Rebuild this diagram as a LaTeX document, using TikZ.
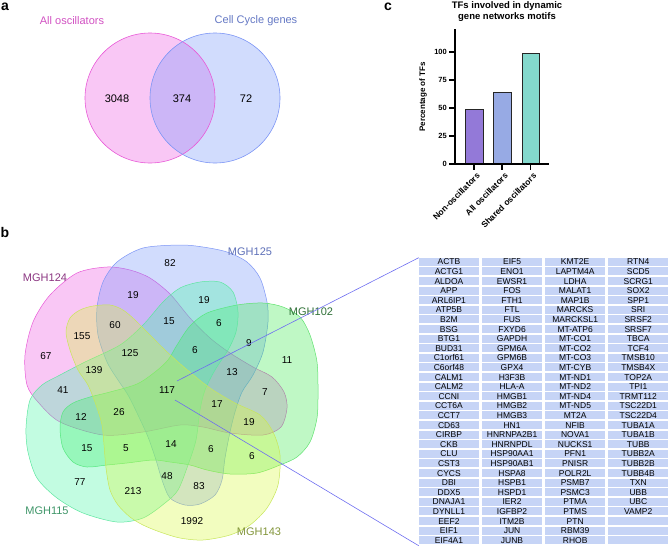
\documentclass[tikz,border=0pt]{standalone}
\usepackage{fontspec}
\setmainfont{Liberation Sans}
\usetikzlibrary{positioning}

\definecolor{oscPink}{RGB}{237,85,225}
\definecolor{oscPinkLine}{RGB}{232,90,215}
\definecolor{ccBlue}{RGB}{115,148,250}
\definecolor{ccBlueLine}{RGB}{125,150,245}
\definecolor{mghGreen}{RGB}{60,235,80}
\definecolor{mghGreenLine}{RGB}{95,225,110}
\definecolor{mghMint}{RGB}{70,245,165}
\definecolor{mghMintLine}{RGB}{95,230,160}
\definecolor{mghYellow}{RGB}{215,248,60}
\definecolor{mghYellowLine}{RGB}{200,230,90}
\definecolor{cellBlue}{RGB}{198,212,246}
\definecolor{zoomLine}{RGB}{110,110,240}
\definecolor{barPurple}{RGB}{147,121,216}
\definecolor{barBlue}{RGB}{151,170,228}
\definecolor{barTeal}{RGB}{132,217,205}

\begin{document}
\begin{tikzpicture}[x=1pt,y=-1pt,
    panel/.style={font=\fontsize{14}{16}\selectfont\bfseries, inner sep=0pt},
    num/.style={font=\fontsize{10}{12}\selectfont, inner sep=1pt},
    bignum/.style={font=\fontsize{11}{13}\selectfont, inner sep=1pt},
    setlabel/.style={font=\fontsize{11}{13}\selectfont, inner sep=1pt},
    blob/.style={fill opacity=0.33, line width=0.5pt},
    gene/.style={font=\fontsize{8.5}{9}\selectfont, inner sep=0pt, text height=6.1pt, text depth=0pt},
    bar/.style={draw=black!85, line width=0.9pt},
    axis/.style={line width=1.3pt, line cap=rect},
    tick/.style={font=\fontsize{7.5}{9}\selectfont\bfseries, inner sep=1pt},
    cat/.style={font=\fontsize{8.5}{10}\selectfont\bfseries, inner sep=0pt, rotate=45, anchor=north east}]

  \useasboundingbox (0,0) rectangle (668,546);

  % a
  \node[panel] (la) at (5,7) {a};
  \fill[oscPink, fill opacity=0.33] (150,98) circle (65);
  \fill[ccBlue, fill opacity=0.33] (215,98) circle (65);
  \draw[oscPinkLine, line width=0.6pt] (150,98) circle (65);
  \draw[ccBlueLine, line width=0.6pt] (215,98) circle (65);
  \node[setlabel, text=oscPinkLine!90!black] (allosc) at (72,21) {All oscillators};
  \node[setlabel, text=ccBlueLine!80!black] (ccgenes) at (256,21) {Cell Cycle genes};
  \node[bignum] (n3048) at (117,99) {3048};
  \node[bignum] (n374) at (182,99) {374};
  \node[bignum] (n72) at (246,99) {72};

  % c
  \node[panel] (lc) at (388,7) {c};
  \node[font=\fontsize{9.5}{10.5}\selectfont\bfseries, align=center] (ctitle) at (507,11.5)
    {TFs involved in dynamic\\gene networks motifs};
  \draw[bar, fill=barPurple] (465,164) rectangle (483,109.1);
  \draw[bar, fill=barBlue] (493,164) rectangle (511,92.3);
  \draw[bar, fill=barTeal] (522,164) rectangle (539,53.1);
  \draw[axis] (455,30) -- (455,164) -- (548,164);
  \foreach \v/\y in {0/164,25/136,50/108,75/80,100/52} {
    \draw[line width=1.1pt] (449,\y) -- (455,\y);
    \node[tick, anchor=east] (tk\v) at (448,\y) {\v};
  }
  \foreach \x/\t in {474/Non-oscillators,502/All oscillators,530.5/Shared oscillators} {
    \draw[line width=1.1pt] (\x,164) -- (\x,170);
    \node[cat] at (\x+2,172) {\t};
  }
  \node[font=\fontsize{8}{9}\selectfont\bfseries, rotate=90] (ylab) at (423,97) {Percentage of TFs};

  % b
  \node[panel] (lb) at (5,232) {b};
  \draw[blob, fill=oscPink, draw=oscPinkLine] plot[smooth cycle] coordinates {
    (107,267) (130,270) (150,278) (170,294) (190,318) (210,338) (230,353) (253,367)
    (272,377) (284,392) (287,408) (281,427) (263,435) (230,433) (203,427) (180,425)
    (143,432) (103,435) (60,422) (38,402) (27,385) (25,355) (33,322) (50,295) (77,273)};
  \draw[blob, fill=ccBlue, draw=ccBlueLine] plot[smooth cycle] coordinates {
    (180,245) (203,247) (227,252) (247,262) (260,278) (267,302) (268,322) (263,352)
    (253,375) (242,392) (235,412) (230,432) (225,458) (222,480) (215,495) (200,504)
    (185,505) (170,498) (162,480) (156,460) (148,437) (138,415) (128,395) (118,380)
    (107,362) (98,335) (97,308) (103,282) (117,262) (143,248)};
  \draw[blob, fill=mghGreen, draw=mghGreenLine] plot[smooth cycle] coordinates {
    (177,345) (190,326) (207,313) (237,305) (263,303) (283,307) (300,317) (310,335)
    (317,362) (318,392) (317,418) (310,442) (297,457) (280,465) (257,473) (230,474)
    (207,470) (190,465) (170,462) (153,460) (127,463) (107,465) (87,467) (73,462)
    (63,448) (60,428) (63,412) (73,403) (90,397) (110,392) (137,384) (155,372) (168,360)};
  \draw[blob, fill=mghMint, draw=mghMintLine] plot[smooth cycle] coordinates {
    (200,282) (220,282) (233,292) (238,312) (236,332) (228,350) (215,370) (205,390)
    (200,410) (196,440) (188,465) (178,490) (165,503) (143,518) (117,522) (83,513)
    (57,498) (37,478) (28,452) (26,428) (30,400) (42,385) (60,375) (85,362) (120,345)
    (143,325) (163,302) (180,288)};
  \draw[blob, fill=mghYellow, draw=mghYellowLine] plot[smooth cycle] coordinates {
    (110,305) (123,310) (135,320) (150,335) (165,350) (185,368) (210,388) (235,403)
    (260,415) (273,432) (280,455) (278,485) (267,508) (250,525) (230,535) (203,540)
    (180,538) (160,532) (143,525) (130,517) (118,505) (110,490) (106,468) (104,445)
    (102,425) (96,405) (88,385) (78,370) (70,350) (66,332) (70,318) (80,310) (93,306)};

  \node[setlabel, text=oscPinkLine!60!black] (mgh124) at (45,278) {MGH124};
  \node[setlabel, text=ccBlueLine!75!black] (mgh125) at (250,252) {MGH125};
  \node[setlabel, text=mghGreenLine!50!black] (mgh102) at (311,312) {MGH102};
  \node[setlabel, text=mghMintLine!65!black] (mgh115) at (47,511) {MGH115};
  \node[setlabel, text=mghYellowLine!65!black] (mgh143) at (259,532) {MGH143};

  \foreach \n/\x/\y in {82/170/263, 19/133/295, 60/115/325, 15/169/321, 155/82/336,
      125/130/353, 67/46/356, 139/94/370, 41/63/390, 117/167/390, 19/204/300, 6/219/323,
      6/195/350, 9/249/343, 11/287/360, 13/232/372, 7/265/392, 12/81/417, 26/119/412,
      15/87/448, 5/126/448, 14/171/444, 48/167/476, 77/80/482, 213/133/491, 17/217/404,
      19/249/422, 6/211/449, 6/252/456, 83/199/486, 1992/192/521}
    \node[num] at (\x,\y) {\n};

  % table
  \foreach \c in {0,...,3}
    \foreach \r in {0,...,29}
      \fill[cellBlue] ({418.7+63.1*\c},{257.7+9.6*\r}) rectangle ++(60.5,8.1);
  \foreach \g [count=\r from 0] in {ACTB,ACTG1,ALDOA,APP,ARL6IP1,ATP5B,B2M,BSG,BTG1,BUD31,
      C1orf61,C6orf48,CALM1,CALM2,CCNI,CCT6A,CCT7,CD63,CIRBP,CKB,CLU,CST3,CYCS,DBI,DDX5,
      DNAJA1,DYNLL1,EEF2,EIF1,EIF4A1}
    \node[gene] at (448.95,{261.75+9.6*\r}) {\g};
  \foreach \g [count=\r from 0] in {EIF5,ENO1,EWSR1,FOS,FTH1,FTL,FUS,FXYD6,GAPDH,GPM6A,
      GPM6B,GPX4,H3F3B,HLA-A,HMGB1,HMGB2,HMGB3,HN1,HNRNPA2B1,HNRNPDL,HSP90AA1,HSP90AB1,
      HSPA8,HSPB1,HSPD1,IER2,IGFBP2,ITM2B,JUN,JUNB}
    \node[gene] at (512.05,{261.75+9.6*\r}) {\g};
  \foreach \g [count=\r from 0] in {KMT2E,LAPTM4A,LDHA,MALAT1,MAP1B,MARCKS,MARCKSL1,
      MT-ATP6,MT-CO1,MT-CO2,MT-CO3,MT-CYB,MT-ND1,MT-ND2,MT-ND4,MT-ND5,MT2A,NFIB,NOVA1,
      NUCKS1,PFN1,PNISR,POLR2L,PSMB7,PSMC3,PTMA,PTMS,PTN,RBM39,RHOB}
    \node[gene] at (575.15,{261.75+9.6*\r}) {\g};
  \foreach \g [count=\r from 0] in {RTN4,SCD5,SCRG1,SOX2,SPP1,SRI,SRSF2,SRSF7,TBCA,TCF4,
      TMSB10,TMSB4X,TOP2A,TPI1,TRMT112,TSC22D1,TSC22D4,TUBA1A,TUBA1B,TUBB,TUBB2A,TUBB2B,
      TUBB4B,TXN,UBB,UBC,VAMP2}
    \node[gene] at (638.25,{261.75+9.6*\r}) {\g};

  \coordinate (hubTop) at (177,381);
  \coordinate (hubBot) at (175,400);
  \coordinate (tblTop) at (418.7,257.7);
  \coordinate (tblBot) at (418.7,545.7);
  \draw[zoomLine, line width=0.6pt] (hubTop) -- (tblTop);
  \draw[zoomLine, line width=0.6pt] (hubBot) -- (tblBot);
\end{tikzpicture}
\end{document}
